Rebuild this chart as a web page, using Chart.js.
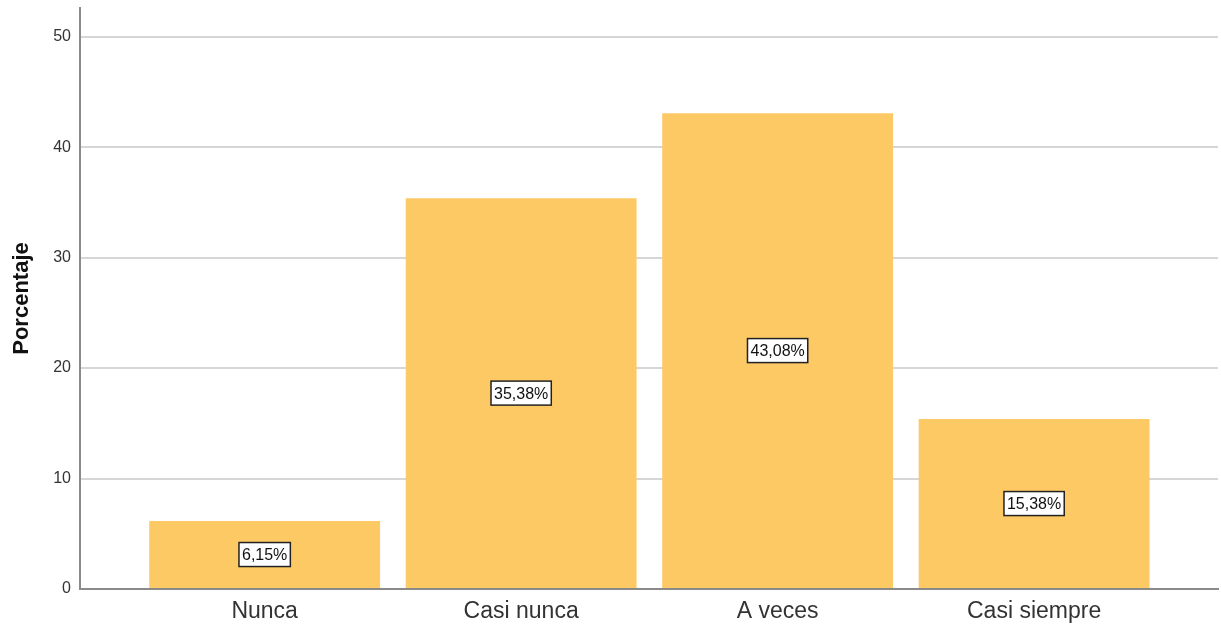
<!DOCTYPE html>
<html>
<head>
<meta charset="utf-8">
<script src="https://cdn.jsdelivr.net/npm/chart.js@4.4.1/dist/chart.umd.min.js"></script>
<style>
  html, body { margin: 0; padding: 0; background: #fff; }
  #wrap { width: 1221px; height: 629px; }
</style>
</head>
<body>
<div id="wrap"><canvas id="chart" width="1221" height="629"></canvas></div>
<script>
  const categories = ['Nunca', 'Casi nunca', 'A veces', 'Casi siempre'];
  const percentages = [6.15, 35.38, 43.08, 15.38];
  const yTicks = [0, 10, 20, 30, 40, 50];

  const BAR_COLOR = '#fdc964';
  const FONT = '"Liberation Sans", Arial, sans-serif';

  // value boxes in the middle of each bar
  const boxLabels = {
    id: 'boxLabels',
    afterDatasetsDraw(chart) {
      const ctx = chart.ctx;
      const meta = chart.getDatasetMeta(0);
      ctx.save();
      ctx.font = '16px ' + FONT;
      ctx.textAlign = 'center';
      ctx.textBaseline = 'middle';
      meta.data.forEach((bar, i) => {
        const txt = percentages[i].toFixed(2).replace('.', ',') + '%';
        const w = ctx.measureText(txt).width + 6;
        const h = 24;
        const cx = bar.x;
        const cy = (bar.y + bar.base) / 2;
        ctx.fillStyle = '#fff';
        ctx.fillRect(cx - w / 2, cy - h / 2, w, h);
        ctx.strokeStyle = '#222';
        ctx.lineWidth = 1.5;
        ctx.strokeRect(cx - w / 2, cy - h / 2, w, h);
        ctx.fillStyle = '#111';
        ctx.fillText(txt, cx, cy + 1);
      });
      ctx.restore();
    }
  };

  new Chart(document.getElementById('chart'), {
    type: 'bar',
    data: {
      datasets: [{
        data: percentages.map((v, i) => ({ x: i, y: v })),
        backgroundColor: BAR_COLOR,
        borderWidth: 0,
        barPercentage: 0.9,
        categoryPercentage: 1.0
      }]
    },
    options: {
      responsive: false,
      animation: false,
      layout: { padding: { top: 0, right: 3, left: 0, bottom: 0 } },
      plugins: { legend: { display: false }, tooltip: { enabled: false } },
      scales: {
        x: {
          type: 'linear',
          offset: false,
          min: -0.72,
          max: 3.717,
          afterBuildTicks(scale) {
            scale.ticks = categories.map((_, i) => ({ value: i }));
          },
          afterFit(scale) { scale.height = 40; scale.paddingLeft = 0; scale.paddingRight = 0; },
          grid: { display: false, drawTicks: false },
          border: { display: true, color: '#8a8a8a', width: 2 },
          ticks: {
            autoSkip: false,
            maxRotation: 0,
            padding: 9,
            color: '#333',
            font: { family: FONT, size: 23 },
            callback: (v) => categories[v] ?? ''
          }
        },
        y: {
          min: 0,
          max: 52.6,
          afterBuildTicks(scale) {
            scale.ticks = yTicks.map((v) => ({ value: v }));
          },
          afterFit(scale) { scale.width = 80; scale.paddingTop = 8; scale.paddingBottom = 0; },
          grid: { color: '#d6d6d6', lineWidth: 2, drawTicks: false },
          border: { display: true, color: '#8a8a8a', width: 2 },
          ticks: {
            padding: 9,
            color: '#333',
            font: { family: FONT, size: 16 }
          },
          title: {
            display: true,
            text: 'Porcentaje',
            color: '#111',
            padding: { top: 9, bottom: 0 },
            font: { family: FONT, size: 22, weight: 'bold' }
          }
        }
      }
    },
    plugins: [boxLabels]
  });
</script>
</body>
</html>
